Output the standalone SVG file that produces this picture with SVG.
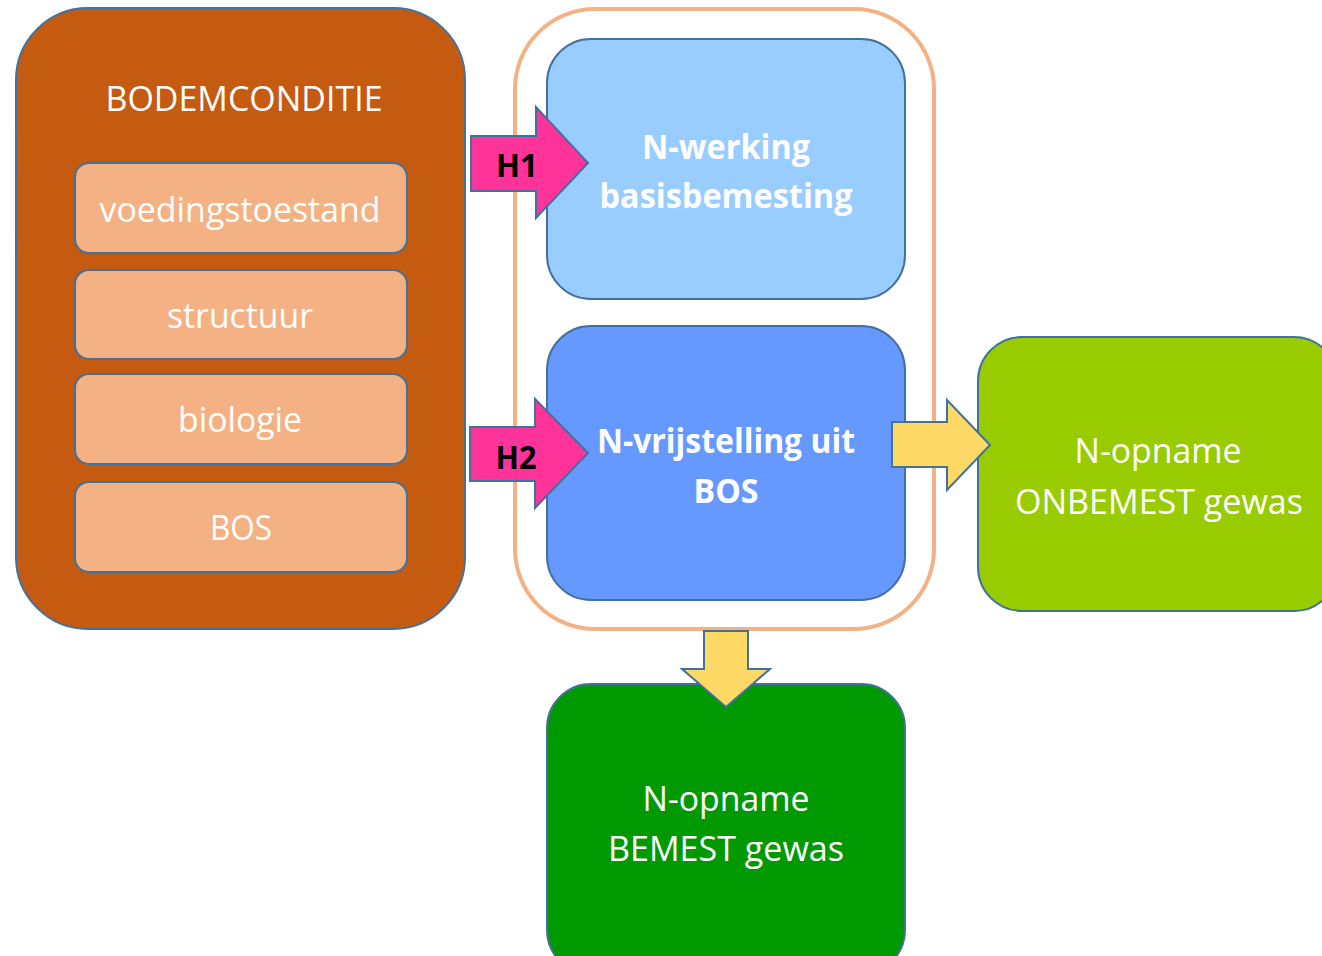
<svg xmlns="http://www.w3.org/2000/svg" width="1322" height="956" viewBox="0 0 1322 956">
<style>
.box{stroke:#41719C;stroke-width:2}
.t{font-family:"Open Sans","Noto Sans",sans-serif;font-size:34px;fill:#ffffff;text-anchor:middle}
.b{font-weight:bold}
.arr{stroke:#41719C;stroke-width:2;stroke-linejoin:miter}
.h{font-family:"Open Sans","Noto Sans",sans-serif;font-size:32px;font-weight:bold;fill:#000000;text-anchor:middle}
</style>
<rect width="1322" height="956" fill="#ffffff"/>
<g id="bodemconditie">
<rect class="box" x="16" y="8" width="449" height="621" rx="72" fill="#C55A11"/>
<text class="t" x="244" y="111" textLength="277" lengthAdjust="spacingAndGlyphs">BODEMCONDITIE</text>
</g>
<g id="voedingstoestand">
<rect class="box" x="75" y="163" width="332" height="90" rx="14" fill="#F4B183"/>
<text class="t" x="240" y="222" textLength="281" lengthAdjust="spacingAndGlyphs">voedingstoestand</text>
</g>
<g id="structuur">
<rect class="box" x="75" y="270" width="332" height="89" rx="14" fill="#F4B183"/>
<text class="t" x="240" y="328" textLength="146" lengthAdjust="spacingAndGlyphs">structuur</text>
</g>
<g id="biologie">
<rect class="box" x="75" y="374" width="332" height="90" rx="14" fill="#F4B183"/>
<text class="t" x="240" y="432" textLength="124" lengthAdjust="spacingAndGlyphs">biologie</text>
</g>
<g id="bos">
<rect class="box" x="75" y="482" width="332" height="90" rx="14" fill="#F4B183"/>
<text class="t" x="241" y="540" textLength="62" lengthAdjust="spacingAndGlyphs">BOS</text>
</g>
<g id="container">
<rect x="515" y="9" width="419" height="620" rx="80" fill="none" stroke="#F4B183" stroke-width="4"/>
</g>
<g id="nwerking">
<rect class="box" x="547" y="39" width="358" height="260" rx="44" fill="#99CCFF"/>
<text class="t b" x="726" y="159" textLength="168" lengthAdjust="spacingAndGlyphs">N-werking</text>
<text class="t b" x="726" y="208" textLength="253" lengthAdjust="spacingAndGlyphs">basisbemesting</text>
</g>
<g id="nvrijstelling">
<rect class="box" x="547" y="326" width="358" height="274" rx="44" fill="#6699FF"/>
<text class="t b" x="726" y="453" textLength="258" lengthAdjust="spacingAndGlyphs">N-vrijstelling uit</text>
<text class="t b" x="726" y="503" textLength="65" lengthAdjust="spacingAndGlyphs">BOS</text>
</g>
<g id="onbemest">
<rect class="box" x="978" y="337" width="360" height="274" rx="44" fill="#99CC00"/>
<text class="t" x="1158" y="463" textLength="167" lengthAdjust="spacingAndGlyphs">N-opname</text>
<text class="t" x="1159" y="514" textLength="288" lengthAdjust="spacingAndGlyphs">ONBEMEST gewas</text>
</g>
<g id="bemest">
<rect class="box" x="547" y="684" width="358" height="290" rx="44" fill="#009900"/>
<text class="t" x="726" y="811" textLength="167" lengthAdjust="spacingAndGlyphs">N-opname</text>
<text class="t" x="726" y="861" textLength="236" lengthAdjust="spacingAndGlyphs">BEMEST gewas</text>
</g>
<g id="connectors">
<g id="h1">
<polygon class="arr" fill="#FF3399" points="471,136 536,136 536,107 588,163 536,218 536,191 471,191"/>
<text class="h" x="517" y="177" textLength="42" lengthAdjust="spacingAndGlyphs">H1</text>
</g>
<g id="h2">
<polygon class="arr" fill="#FF3399" points="470,427 535,427 535,399 588,453 535,508 535,481 470,481"/>
<text class="h" x="516" y="469" textLength="41" lengthAdjust="spacingAndGlyphs">H2</text>
</g>
<polygon class="arr" fill="#FFD966" points="892,422 947,422 947,400 990,445 947,490 947,467 892,467"/>
<polygon class="arr" fill="#FFD966" points="704,631 748,631 748,669 770,669 726,707 682,669 704,669"/>
</g>
</svg>
